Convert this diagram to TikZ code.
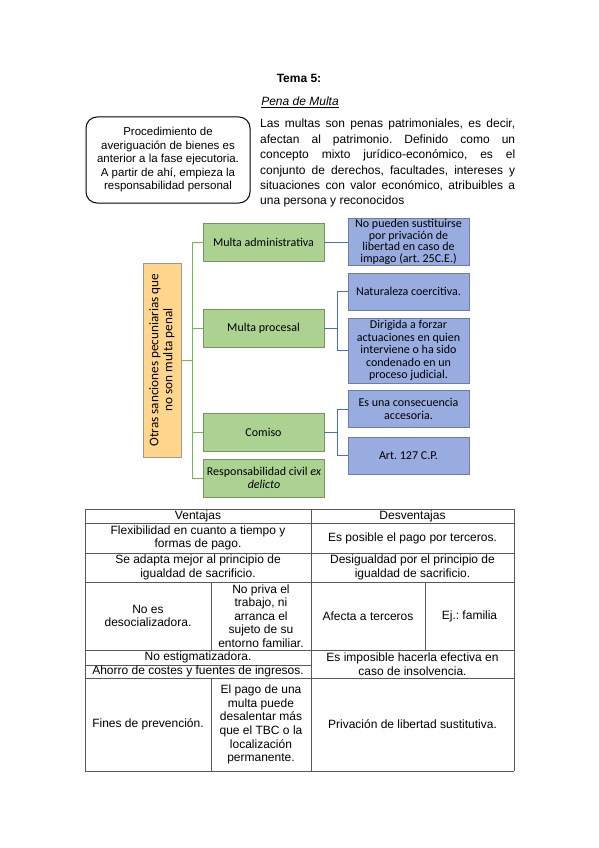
\documentclass[tikz,border=0pt]{standalone}
\usepackage{fontspec}
\setmainfont{Liberation Sans}
\newfontfamily\cali{Carlito}
\usetikzlibrary{positioning, calc}
\frenchspacing

\definecolor{naranja}{RGB}{255,214,140}
\definecolor{verde}{RGB}{172,210,146}
\definecolor{verdeborde}{RGB}{118,152,96}
\definecolor{azul}{RGB}{152,172,224}
\definecolor{azulborde}{RGB}{112,124,168}
\definecolor{lineaverde}{RGB}{112,190,72}
\definecolor{lineaazul}{RGB}{68,112,198}

\begin{document}
\begin{tikzpicture}[
    x=1pt, y=-1pt,
    rama/.style={draw=verdeborde, fill=verde, minimum width=121pt, minimum height=38pt,
                 inner sep=1pt, font=\cali\fontsize{12}{13}\selectfont, align=center},
    hoja/.style={draw=azulborde, fill=azul, minimum width=121pt, minimum height=37pt,
                 inner sep=1pt, font=\cali\fontsize{12}{12.4}\selectfont, align=center},
    celda/.style={font=\fontsize{12}{13.6}\selectfont, align=center, inner sep=0pt},
    rejilla/.style={draw=black!65, line width=0.7pt},
    conv/.style={lineaverde, line width=0.9pt},
    cona/.style={lineaazul, line width=0.9pt}
]
  \useasboundingbox (0,0) rectangle (599,848);

  % cabecera
  \node[font=\bfseries\fontsize{12}{14}\selectfont] (tema) at (299,78) {Tema 5:};
  \node[font=\fontsize{12}{14}\selectfont] (pena) at (300,102) {\underline{\textit{Pena de Multa}}};
  \node[draw, line width=1pt, rounded corners=11pt, minimum width=164pt, minimum height=86pt,
        font=\fontsize{11.5}{13.5}\selectfont, align=center] (nota) at (168,160)
       {Procedimiento de\\averiguación de bienes es\\anterior a la fase ejecutoria.\\A partir de ahí, empieza la\\responsabilidad personal};
  \node[text width=255pt, inner sep=0pt, align=justify, anchor=north west,
        font=\fontsize{12}{15.4}\selectfont] (texto) at (260,119)
       {Las multas son penas patrimoniales, es decir,\linebreak
        afectan al patrimonio. Definido como un\linebreak
        concepto mixto jurídico-económico, es el\linebreak
        conjunto de derechos, facultades, intereses y\linebreak
        situaciones con valor económico, atribuibles a\linebreak
        una persona y reconocidos};

  % esquema
  \node[draw=black!40, fill=naranja, minimum width=194pt, minimum height=38pt, rotate=90,
        font=\cali\fontsize{13.2}{14}\selectfont, align=center, inner sep=1pt] (otras) at (162,360)
       {Otras sanciones pecuniarias que\\no son multa penal};
  \node[rama] (adm) at (263.5,242) {Multa administrativa};
  \node[rama] (proc) at (263.5,328) {Multa procesal};
  \node[rama] (com) at (263.5,432) {Comiso};
  \node[rama] (rc) at (264,478) {Responsabilidad civil \textit{ex}\\\textit{delicto}};

  \node[hoja, minimum height=44pt, font=\cali\fontsize{12}{11.6}\selectfont] (b1) at (408.5,242)
       {No pueden sustituirse\\por privación de\\libertad en caso de\\impago (art. 25C.E.)};
  \node[hoja] (b2) at (408.5,291.5) {Naturaleza coercitiva.};
  \node[hoja, minimum height=65pt] (b3) at (408.5,350.5)
       {Dirigida a forzar\\actuaciones en quien\\interviene o ha sido\\condenado en un\\proceso judicial.};
  \node[hoja] (b4) at (408.5,409) {Es una consecuencia\\accesoria.};
  \node[hoja] (b5) at (408.5,455.5) {Art. 127 C.P.};

  \coordinate (tr) at (192,0);
  \coordinate (ta) at (337,0);
  \draw[conv] (adm.west) -- (adm.west -| tr) -- (rc.west -| tr) -- (rc.west);
  \foreach \n in {otras.south, proc.west, com.west}
    \draw[conv] (\n) -- (\n -| tr);
  \draw[cona] (adm.east) -- (b1.west);
  \draw[cona] (proc.east) -- (proc.east -| ta);
  \draw[cona] (b2.west) -- (b2.west -| ta) -- (b3.west -| ta) -- (b3.west);
  \draw[cona] (com.east) -- (com.east -| ta);
  \draw[cona] (b4.west) -- (b4.west -| ta) -- (b5.west -| ta) -- (b5.west);

  % tabla
  \foreach \y in {509, 523, 553, 582, 650, 678, 771}
    \draw[rejilla] (85,\y) -- (514,\y);
  \draw[rejilla] (85,665) -- (311,665);
  \foreach \x in {85, 311, 514}
    \draw[rejilla] (\x,509) -- (\x,771);
  \draw[rejilla] (211,582) -- (211,650) (425,582) -- (425,650) (211,678) -- (211,771);

  \node[celda] (v0) at (198,516) {Ventajas};
  \node[celda] (d0) at (412.5,516) {Desventajas};
  \node[celda] (v1) at (198,538) {Flexibilidad en cuanto a tiempo y\\formas de pago.};
  \node[celda] (d1) at (412.5,538) {Es posible el pago por terceros.};
  \node[celda] (v2) at (198,567.5) {Se adapta mejor al principio de\\igualdad de sacrificio.};
  \node[celda] (d2) at (412.5,567.5) {Desigualdad por el principio de\\igualdad de sacrificio.};
  \node[celda] (v3) at (148,616) {No es\\desocializadora.};
  \node[celda] (v3b) at (261,616) {No priva el\\trabajo, ni\\arranca el\\sujeto de su\\entorno familiar.};
  \node[celda] (d3) at (368,616) {Afecta a terceros};
  \node[celda] (d3b) at (469.5,616) {Ej.: familia};
  \node[celda] (v4) at (198,657.5) {No estigmatizadora.};
  \node[celda] (v4b) at (198,671.5) {Ahorro de costes y fuentes de ingresos.};
  \node[celda] (d4) at (412.5,664) {Es imposible hacerla efectiva en\\caso de insolvencia.};
  \node[celda] (v5) at (148,724.5) {Fines de prevención.};
  \node[celda] (v5b) at (261,724.5) {El pago de una\\multa puede\\desalentar más\\que el TBC o la\\localización\\permanente.};
  \node[celda] (d5) at (412.5,724.5) {Privación de libertad sustitutiva.};
\end{tikzpicture}
\end{document}
